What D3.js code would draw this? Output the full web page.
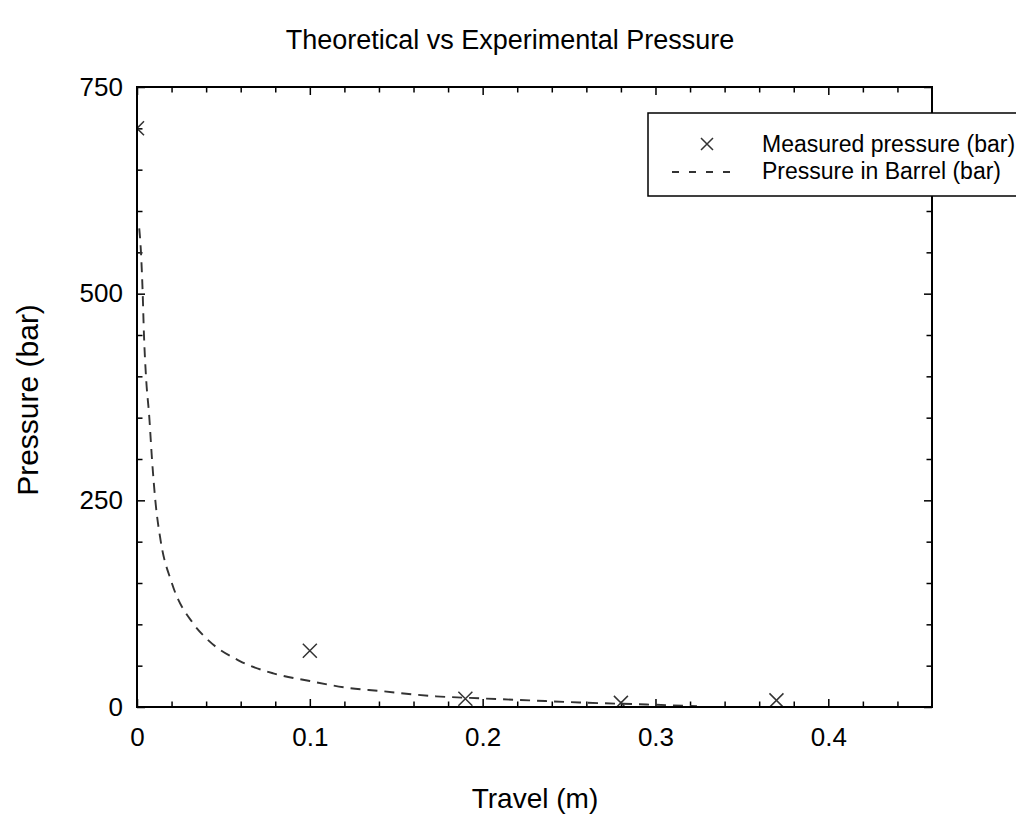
<!DOCTYPE html>
<html>
<head>
<meta charset="utf-8">
<script src="https://cdn.jsdelivr.net/npm/d3@7"></script>
<style>
  html, body { margin: 0; padding: 0; background: #fff; }
  svg { display: block; }
  text { font-family: "Liberation Sans", Arial, Helvetica, sans-serif; fill: #000; }
</style>
</head>
<body>
<svg id="chart" width="1016" height="818"></svg>
<script>
// ---- data ----
const title = "Theoretical vs Experimental Pressure";
const xLabel = "Travel (m)";
const yLabel = "Pressure (bar)";
const measuredX = [0, 0.1, 0.19, 0.28, 0.37];
const measuredP = [700, 68, 10, 5, 8];
const theoryX = [0.0013, 0.0023, 0.0033, 0.004, 0.0052, 0.0071, 0.0087, 0.0106, 0.0137, 0.020, 0.0325, 0.0396, 0.0595, 0.0788, 0.1, 0.121, 0.1405, 0.173, 0.1925, 0.227, 0.256, 0.295, 0.324];
const theoryP = [579, 550, 500, 452, 400, 351, 299, 250, 201, 151, 101, 84, 55.6, 40.7, 31.4, 23.4, 19.4, 12.9, 11, 8, 5.5, 3, 1];
const xMajorTicks = [0, 0.1, 0.2, 0.3, 0.4];
const xMinorTicks = [0.02, 0.04, 0.06, 0.08, 0.12, 0.14, 0.16, 0.18, 0.22, 0.24, 0.26, 0.28, 0.32, 0.34, 0.36, 0.38, 0.42, 0.44];
const yMajorTicks = [0, 250, 500, 750];
const yMinorTicks = [50, 100, 150, 200, 300, 350, 400, 450, 550, 600, 650, 700];
const legendLabels = ["Measured pressure (bar)", "Pressure in Barrel (bar)"];

// ---- layout ----
const L = 137, R = 932, T = 87, B = 707;
const svg = d3.select("#chart");
const x = d3.scaleLinear().domain([0, 0.46]).range([L, R]);
const y = d3.scaleLinear().domain([0, 750]).range([B, T]);
const ink = "#333";

// clip
svg.append("defs").append("clipPath").attr("id", "plotclip")
  .append("rect").attr("x", L).attr("y", T).attr("width", R - L).attr("height", B - T);

const MAJ = 8, MIN = 5.5;
function styleAxis(g) {
  g.select(".domain").remove();
  g.selectAll(".tick line").attr("stroke", "#000").attr("stroke-width", 1.5);
  g.selectAll("text").style("font-size", "26px").attr("fill", "#000");
}
// bottom
svg.append("g").attr("transform", `translate(0,${B})`)
  .call(d3.axisBottom(x).tickValues(xMajorTicks).tickSize(-MAJ).tickSizeOuter(0).tickPadding(21)
    .tickFormat(d => d === 0 ? "0" : d3.format(".1f")(d)))
  .call(styleAxis);
svg.append("g").attr("transform", `translate(0,${B})`)
  .call(d3.axisBottom(x).tickValues(xMinorTicks).tickSize(-MIN).tickSizeOuter(0).tickFormat(""))
  .call(styleAxis);
// top
svg.append("g").attr("transform", `translate(0,${T})`)
  .call(d3.axisTop(x).tickValues(xMajorTicks).tickSize(-MAJ).tickSizeOuter(0).tickFormat(""))
  .call(styleAxis);
svg.append("g").attr("transform", `translate(0,${T})`)
  .call(d3.axisTop(x).tickValues(xMinorTicks).tickSize(-MIN).tickSizeOuter(0).tickFormat(""))
  .call(styleAxis);
// left
svg.append("g").attr("transform", `translate(${L},0)`)
  .call(d3.axisLeft(y).tickValues(yMajorTicks).tickSize(-MAJ).tickSizeOuter(0).tickPadding(14))
  .call(styleAxis);
svg.append("g").attr("transform", `translate(${L},0)`)
  .call(d3.axisLeft(y).tickValues(yMinorTicks).tickSize(-MIN).tickSizeOuter(0).tickFormat(""))
  .call(styleAxis);
// right
svg.append("g").attr("transform", `translate(${R},0)`)
  .call(d3.axisRight(y).tickValues(yMajorTicks).tickSize(-MAJ).tickSizeOuter(0).tickFormat(""))
  .call(styleAxis);
svg.append("g").attr("transform", `translate(${R},0)`)
  .call(d3.axisRight(y).tickValues(yMinorTicks).tickSize(-MIN).tickSizeOuter(0).tickFormat(""))
  .call(styleAxis);

// theoretical curve
const theory = theoryX.map((v, i) => [v, theoryP[i]]);
const line = d3.line().x(d => x(d[0])).y(d => y(d[1])).curve(d3.curveMonotoneX);
const plot = svg.append("g").attr("clip-path", "url(#plotclip)");
plot.append("path").datum(theory)
  .attr("d", line).attr("fill", "none").attr("stroke", ink)
  .attr("stroke-width", 1.9).attr("stroke-dasharray", "10,7");

// measured crosses
const cs = 7;
function cross(sel) {
  sel.append("path")
    .attr("d", `M${-cs},${-cs}L${cs},${cs}M${-cs},${cs}L${cs},${-cs}`)
    .attr("stroke", ink).attr("stroke-width", 1.5).attr("fill", "none");
}
const measured = measuredX.map((v, i) => [v, measuredP[i]]);
plot.selectAll("g.pt").data(measured).join("g").attr("class", "pt")
  .attr("transform", d => `translate(${x(d[0])},${y(d[1])})`)
  .call(cross);

// frame
svg.append("rect").attr("x", L).attr("y", T).attr("width", R - L).attr("height", B - T)
  .attr("fill", "none").attr("stroke", "#000").attr("stroke-width", 2);

// legend
const lg = svg.append("g");
lg.append("rect").attr("x", 648).attr("y", 113).attr("width", 400).attr("height", 83)
  .attr("fill", "#fff").attr("stroke", "#000").attr("stroke-width", 1.5);
lg.append("g").attr("transform", "translate(707,144)").call(g => {
  g.append("path").attr("d", "M-6,-6L6,6M-6,6L6,-6").attr("stroke", ink).attr("stroke-width", 1.5);
});
lg.append("line").attr("x1", 672).attr("x2", 740).attr("y1", 172).attr("y2", 172)
  .attr("stroke", ink).attr("stroke-width", 1.8).attr("stroke-dasharray", "7,10");
lg.selectAll("text.lab").data(legendLabels).join("text").attr("class", "lab")
  .attr("x", 762).attr("y", (d, i) => 152 + i * 27)
  .style("font-size", "23px").text(d => d);

// titles
svg.append("text").attr("x", 510).attr("y", 49).attr("text-anchor", "middle")
  .style("font-size", "27px").text(title);
svg.append("text").attr("x", 535).attr("y", 808).attr("text-anchor", "middle")
  .style("font-size", "28px").text(xLabel);
svg.append("text").attr("transform", `translate(38,400) rotate(-90)`)
  .attr("text-anchor", "middle").style("font-size", "30px").text(yLabel);
</script>
</body>
</html>
